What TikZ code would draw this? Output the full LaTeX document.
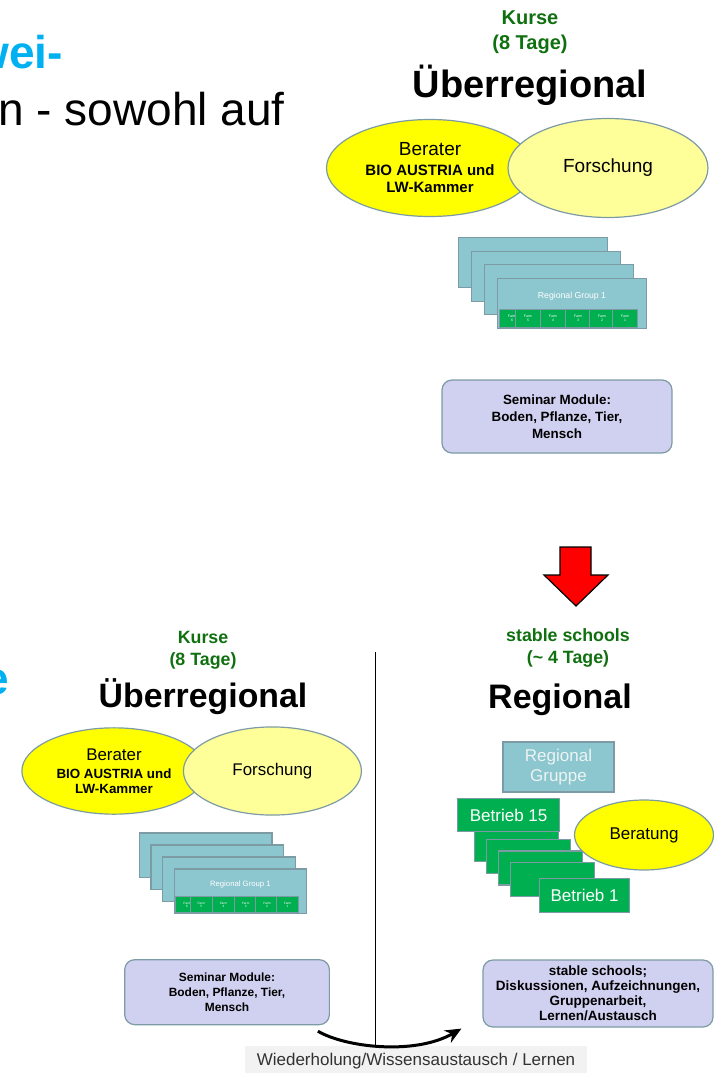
\documentclass[tikz,border=0pt]{standalone}
\usepackage{fontspec}
\setmainfont{Liberation Sans}
\usetikzlibrary{shapes.geometric,arrows.meta}

\definecolor{kursgreen}{RGB}{16,112,16}
\definecolor{slideblue}{RGB}{0,176,240}
\definecolor{berateryellow}{RGB}{255,255,0}
\definecolor{forschungyellow}{RGB}{255,255,153}
\definecolor{rimgrey}{RGB}{125,155,165}
\definecolor{groupteal}{RGB}{140,198,206}
\definecolor{farmgreen}{RGB}{0,176,80}
\definecolor{modullilac}{RGB}{208,208,240}
\definecolor{labelgrey}{RGB}{242,242,242}

\newcommand{\fs}[2]{\fontsize{#1}{#2}\selectfont}

\tikzset{
  oval/.style={ellipse, draw=rimgrey, line width=1.2pt, inner sep=0pt, align=center},
  groupcard/.style={draw=rimgrey, fill=groupteal, line width=1.2pt, anchor=north west,
    minimum width=149pt, minimum height=50pt, inner sep=0pt},
  farmbox/.style={draw=rimgrey, fill=farmgreen, line width=1pt, anchor=north west,
    minimum width=25pt, minimum height=18pt, inner sep=0pt, text=white, align=center,
    font=\fs{3.5}{4}},
  modulbox/.style={draw=rimgrey, fill=modullilac, line width=1.2pt, rounded corners=10pt,
    align=center, inner sep=0pt},
  hofcard/.style={draw=rimgrey, fill=farmgreen, line width=1.2pt, anchor=north west,
    minimum height=34pt, inner sep=0pt, text=white, font=\fs{17}{20}},
  kurstitle/.style={text=kursgreen, align=center, font=\bfseries\fs{20}{25}},
  bigtitle/.style={inner sep=0pt, font=\bfseries\fs{38}{42}},
  loopflow/.style={line width=3pt, -{Stealth[length=16pt,width=14pt]}}
}

\newcommand{\kursblock}{%
  \node[kurstitle] (kurse) at (100,-136) {Kurse\\(8 Tage)};
  \node[bigtitle, anchor=base] (ueber) at (100,-71) {Überregional};
  \node[oval, fill=berateryellow, minimum width=207pt, minimum height=97pt,
    font=\bfseries\fs{15}{17}] (berater) at (0,0)
    {{\mdseries\fs{19}{20}Berater}\\[3pt]BIO AUSTRIA und\\LW-Kammer};
  \node[oval, fill=forschungyellow, minimum width=200pt, minimum height=99pt,
    font=\fs{19}{22}] (forschung) at (178,0) {Forschung};
  \foreach \i in {0,...,3}
    \node[groupcard] (card\i) at (28+13*\i,69+13.5*\i) {};
  \node[text=white, font=\fs{8.7}{10}] (grouplabel) at (142,128) {Regional Group 1};
  \foreach \n/\x in {6/69,5/85,4/110,3/135,2/159,1/182}
    \node[farmbox] (farm\n) at (\x,141) {Farm\\\n};
  \node[modulbox, minimum width=230pt, minimum height=73pt, font=\bfseries\fs{13.4}{17}]
    (seminar) at (127,248.5) {Seminar Module:\\Boden, Pflanze, Tier,\\Mensch};
}

\begin{document}
\begin{tikzpicture}[x=1pt, y=-1pt]
\useasboundingbox (0,0) rectangle (714,1073);
\clip (0,0) rectangle (714,1073);

% slide text cut off at the left
\node[inner sep=0pt, text=slideblue, font=\bfseries\fs{46}{50}, anchor=base east] (headfrag) at (63,68) {wei-};
\node[inner sep=0pt, font=\fs{46}{50}, anchor=base east] (bodyfrag) at (285,125) {n - sowohl auf};
\node[inner sep=0pt, text=slideblue, font=\bfseries\fs{46}{50}, anchor=base east] (sidefrag) at (9,694) {e};

\begin{scope}[name prefix=top-, shift={(430,168)}]
  \kursblock
\end{scope}

\fill[red, draw=black, line width=1.2pt] (560,547) -- (591,547) -- (591,575) -- (608,575)
  -- (576,606) -- (544,575) -- (560,575) -- cycle;

\begin{scope}[name prefix=bl-, shift={(114,771)}, scale=0.89, transform shape]
  \kursblock
\end{scope}

\draw[line width=0.8pt] (375,652) -- (375,1047);

% regional side
\node[kurstitle, font=\bfseries\fs{17.8}{22.3}] (stable) at (568,648) {stable schools\\(\textasciitilde{} 4 Tage)};
\node[bigtitle, font=\bfseries\fs{34}{38}, anchor=base] (regional) at (560,708) {Regional};
\node[draw=rimgrey, fill=groupteal, line width=1.2pt, minimum width=111pt, minimum height=50pt,
  inner sep=0pt, align=center, text={rgb,255:red,236;green,244;blue,244}, font=\fs{17}{20}]
  (rgruppe) at (558.5,767) {Regional\\Gruppe};
\foreach \i in {0,...,3}
  \node[hofcard, minimum width=84pt] (mid\i) at (474+12*\i,827+11.7*\i) {};
\node[hofcard, minimum width=90pt] (hof1) at (539,878) {Betrieb 1};
\node[hofcard, minimum width=102pt, minimum height=33pt] (hof15) at (457,798) {Betrieb 15};
\node[oval, fill=berateryellow, minimum width=139pt, minimum height=70pt, font=\fs{17}{20}]
  (beratung) at (644,835) {Beratung};
\node[modulbox, minimum width=230pt, minimum height=67pt, font=\bfseries\fs{13.5}{15}]
  (stablebox) at (598,993.5) {stable schools;\\Diskussionen, Aufzeichnungen,\\Gruppenarbeit,\\Lernen/Austausch};

\node[fill=labelgrey, text={rgb,255:red,50;green,50;blue,50}, font=\fs{17}{20},
  minimum height=30pt, inner xsep=12pt, inner ysep=0pt] (looplabel) at (416,1061)
  {Wiederholung/Wissensaustausch / Lernen};

\coordinate (loopstart) at ([xshift=-12pt,yshift=-6pt]bl-seminar.south east);
\coordinate (loopend) at ([xshift=-21pt,yshift=-1pt]stablebox.south west);
\draw[loopflow] (loopstart) .. controls +(27,16) and +(-47,27) .. (loopend);

\end{tikzpicture}
\end{document}
